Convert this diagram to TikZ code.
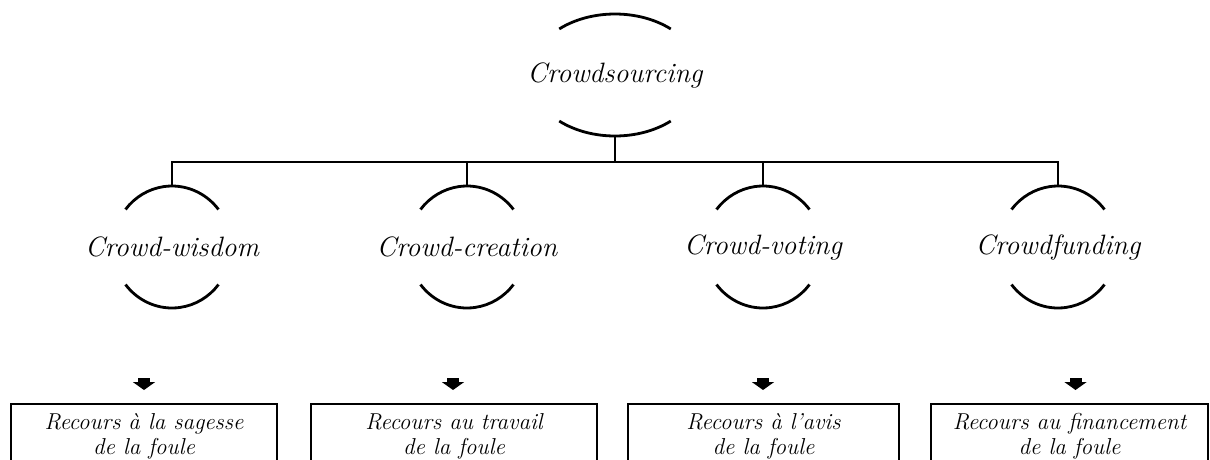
\documentclass[tikz,border=0pt]{standalone}
\usepackage{tikz}
\usetikzlibrary{calc,arrows.meta,positioning}
\tikzset{crowd/.style={draw=none, inner sep=0pt, minimum width=#1, minimum height=122pt,
font=\fontsize{28}{32}\selectfont\itshape}, crowd/.default={120pt}}
\tikzset{recours/.style={draw=black, line width=2.4pt, anchor=north, minimum width=#1, minimum height=64pt,
inner sep=0pt, align=center, font=\fontsize{23}{25}\selectfont\itshape}}
\tikzset{pointer/.style={line width=12pt, -{Triangle[length=8pt,width=22pt]}, shorten >=13pt}}
\newcommand{\crowdarcs}[4]{%
    \draw (#1.center) ++(#4:#2 and #3) arc[start angle=#4, end angle=180-#4, x radius=#2, y radius=#3];
    \draw (#1.center) ++(180+#4:#2 and #3) arc[start angle=180+#4, end angle=360-#4, x radius=#2, y radius=#3];
}

\begin{document}
\begin{tikzpicture}[x=1pt, y=1pt, line width=2.8pt]

    \useasboundingbox (0,0) rectangle (1210,-459);
    \clip (0,0) rectangle (1210,-459);

% the root

    \node[crowd=170pt] (cs) at (615,-75) {Crowdsourcing};
    \crowdarcs{cs}{85pt}{61pt}{49}

% the four kinds

    \node[crowd] (cw) at (172,-247) {Crowd-wisdom};
    \node[crowd] (cc) at (467,-247) {Crowd-creation};
    \node[crowd] (cv) at (763,-247) {Crowd-voting};
    \node[crowd] (cf) at (1058,-247) {Crowdfunding};
    \crowdarcs{cw}{59pt}{61pt}{38}
    \crowdarcs{cc}{59pt}{61pt}{38}
    \crowdarcs{cv}{59pt}{61pt}{38}
    \crowdarcs{cf}{59pt}{61pt}{38}

    \coordinate (bus) at (615,-162);
    \draw (cs.south) -- (bus);
    \draw (bus) -| (cw.north);
    \draw (bus) -| (cc.north);
    \draw (bus) -| (cv.north);
    \draw (bus) -| (cf.north);

% the boxes

    \node[recours=266pt] (bw) at (144,-403) {Recours à la sagesse\\de la foule};
    \node[recours=286pt] (bc) at (454,-403) {Recours au travail\\de la foule};
    \node[recours=271pt] (bv) at (763.5,-403) {Recours à l’avis\\de la foule};
    \node[recours=277pt] (bf) at (1069.5,-403) {Recours au financement\\de la foule};

    \coordinate (aw) at (144,-378);
    \coordinate (ac) at (453,-378);
    \coordinate (av) at (763,-378);
    \coordinate (af) at (1075.5,-378);
    \draw[pointer] (aw) -- (aw |- bw.north);
    \draw[pointer] (ac) -- (ac |- bc.north);
    \draw[pointer] (av) -- (av |- bv.north);
    \draw[pointer] (af) -- (af |- bf.north);

\end{tikzpicture}
\end{document}
